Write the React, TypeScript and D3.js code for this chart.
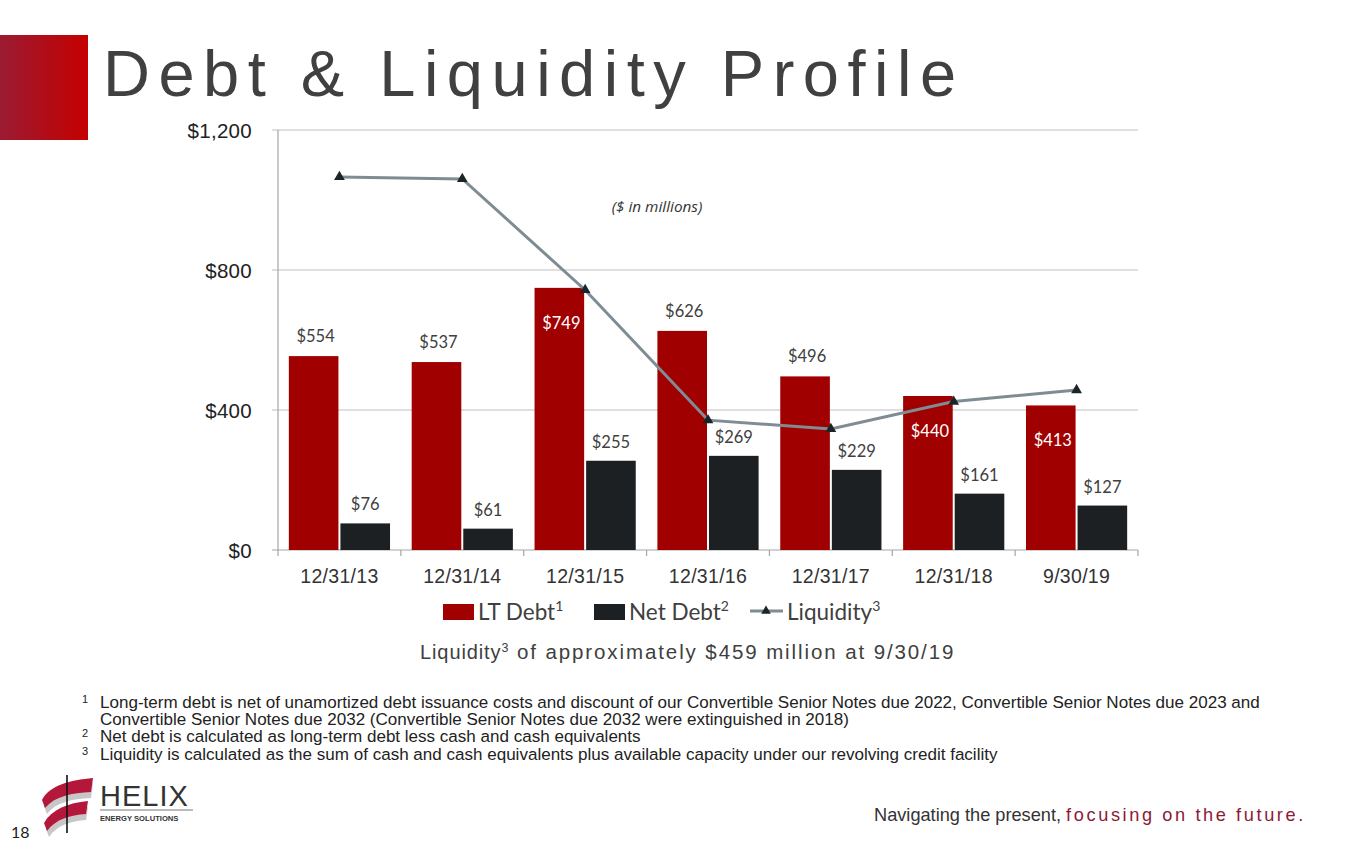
import React from "react";
import * as d3 from "d3";

const categories = ["12/31/13", "12/31/14", "12/31/15", "12/31/16", "12/31/17", "12/31/18", "9/30/19"];
const ltDebt = [554, 537, 749, 626, 496, 440, 413];
const netDebt = [76, 61, 255, 269, 229, 161, 127];
const liquidity = [1066, 1060, 743, 371, 346, 424, 457];
const ltInside = [false, false, true, false, false, true, true];
const yTicks = [0, 400, 800, 1200];
const footnotes = [
  { n: "1", lines: ["Long-term debt is net of unamortized debt issuance costs and discount of our Convertible Senior Notes due 2022, Convertible Senior Notes due 2023 and", "Convertible Senior Notes due 2032 (Convertible Senior Notes due 2032 were extinguished in 2018)"] },
  { n: "2", lines: ["Net debt is calculated as long-term debt less cash and cash equivalents"] },
  { n: "3", lines: ["Liquidity is calculated as the sum of cash and cash equivalents plus available capacity under our revolving credit facility"] },
];

const RED = "#a00000";
const BLACK = "#1c2022";
const LINE = "#7f8c93";
const AX = "#a6a6a6";
const ARIAL = "Liberation Sans, Arial, sans-serif";
const LABF = "Lato, 'Open Sans', sans-serif";

export default function App() {
  const W = 1365, H = 853;
  const L = 278, R = 1138, T = 130, B = 550;
  const x = d3.scaleBand<string>().domain(categories).range([L, R]).padding(0);
  const xs = d3.scaleBand<string>().domain(["lt", "net"]).range([0, x.bandwidth()]).paddingInner(0.0385).paddingOuter(0.21);
  const y = d3.scaleLinear().domain([0, 1200]).range([B, T]);
  const cx = (c: string) => (x(c) as number) + x.bandwidth() / 2;
  const line = d3.line<number>().x((_, i) => cx(categories[i])).y((v) => y(v));
  const tri = d3.symbol().type(d3.symbolTriangle).size(50)() as string;
  const bw = xs.bandwidth();

  const fnY = [708, 725, 742, 760];
  let li = 0;

  return (
    <svg width={W} height={H} style={{ position: "absolute", left: 0, top: 0, background: "#fff" }}>
      <defs>
        <linearGradient id="sq" x1="0" x2="1" y1="0" y2="0">
          <stop offset="0" stopColor="#9b1b32" />
          <stop offset="1" stopColor="#c50000" />
        </linearGradient>
      </defs>
      <rect x={0} y={35} width={88} height={105} fill="url(#sq)" />
      <text x={103} y={96} fontFamily={ARIAL} fontSize={65} fill="#404040" letterSpacing={8.5}>Debt &amp; Liquidity Profile</text>

      {/* grid & axes */}
      {yTicks.map((t) => (
        <g key={t}>
          {t > 0 && <line x1={L - 6} x2={R} y1={y(t)} y2={y(t)} stroke="#bfbfbf" strokeWidth={1.2} />}
          <text x={252} y={y(t) + 7.5} textAnchor="end" fontFamily={ARIAL} fontSize={20.5} fill="#222" letterSpacing={0.3}>{d3.format("$,")(t)}</text>
        </g>
      ))}
      <line x1={L} x2={L} y1={T} y2={B} stroke={AX} strokeWidth={1.2} />
      <line x1={L - 6} x2={R} y1={B} y2={B} stroke={AX} strokeWidth={1.2} />
      {categories.map((c) => (
        <line key={"tk" + c} x1={x(c) as number} x2={x(c) as number} y1={B} y2={B + 6} stroke={AX} strokeWidth={1.2} />
      ))}
      <line x1={R} x2={R} y1={B} y2={B + 6} stroke={AX} strokeWidth={1.2} />
      {categories.map((c) => (
        <text key={"xl" + c} x={cx(c)} y={583} textAnchor="middle" fontFamily={ARIAL} fontSize={19.5} fill="#333" letterSpacing={0.3}>{c}</text>
      ))}

      <text x={657} y={212} textAnchor="middle" fontFamily="'Open Sans', sans-serif" fontStyle="italic" fontSize={15.3} fill="#333">($ in millions)</text>

      {/* bars */}
      {categories.map((c, i) => {
        const x0 = (x(c) as number) + (xs("lt") as number);
        const x1 = (x(c) as number) + (xs("net") as number);
        return (
          <g key={"b" + c}>
            <rect x={x0} y={y(ltDebt[i])} width={bw} height={B - y(ltDebt[i])} fill={RED} />
            <rect x={x1} y={y(netDebt[i])} width={bw} height={B - y(netDebt[i])} fill={BLACK} />
          </g>
        );
      })}

      {/* liquidity line */}
      <path d={line(liquidity) as string} fill="none" stroke={LINE} strokeWidth={3} />
      {liquidity.map((v, i) => (
        <path key={"m" + i} d={tri} transform={`translate(${cx(categories[i])},${y(v)})`} fill="#1b2426" />
      ))}

      {/* labels */}
      {categories.map((c, i) => {
        const x0 = (x(c) as number) + (xs("lt") as number) + bw / 2;
        const x1 = (x(c) as number) + (xs("net") as number) + bw / 2;
        const ly = ltInside[i] ? y(ltDebt[i]) + 41 : y(ltDebt[i]) - 14;
        return (
          <g key={"l" + c} fontFamily={LABF} fontSize={16.5}>
            <text x={x0 + 2} y={ly} textAnchor="middle" fill={ltInside[i] ? "#fff" : "#404040"}>{"$" + ltDebt[i]}</text>
            <text x={x1} y={y(netDebt[i]) - 13} textAnchor="middle" fill="#404040">{"$" + netDebt[i]}</text>
          </g>
        );
      })}

      {/* legend */}
      <g fontFamily={LABF} fontSize={22.5} fill="#404040">
        <rect x={443} y={604} width={31} height={16} fill={RED} />
        <text x={478} y={620}>LT Debt<tspan fontSize={14} dy={-9}>1</tspan></text>
        <rect x={594} y={604} width={31} height={16} fill={BLACK} />
        <text x={629} y={620}>Net Debt<tspan fontSize={14} dy={-9}>2</tspan></text>
        <line x1={750} x2={783} y1={611} y2={611} stroke={LINE} strokeWidth={3} />
        <path d={d3.symbol().type(d3.symbolTriangle).size(40)() as string} transform="translate(766,611)" fill="#1b2426" />
        <text x={787} y={620}>Liquidity<tspan fontSize={14} dy={-9}>3</tspan></text>
      </g>

      <text x={420} y={659} fontFamily={ARIAL} fontSize={20} fill="#404040" letterSpacing={0.9}>
        Liquidity<tspan fontSize={12.5} dy={-7}>3</tspan><tspan dy={7} fontSize={20.5} letterSpacing={1.9}> of approximately $459 million at 9/30/19</tspan>
      </text>

      {/* footnotes */}
      <g fontFamily={ARIAL} fontSize={17.05} fill="#222">
        {footnotes.map((f) =>
          f.lines.map((ln, j) => {
            const yy = fnY[li++];
            return (
              <g key={f.n + "-" + j}>
                {j === 0 && <text x={82} y={yy - 5} fontSize={11}>{f.n}</text>}
                <text x={100} y={yy}>{ln}</text>
              </g>
            );
          })
        )}
      </g>

      {/* footer */}
      <text x={874} y={821} fontFamily={ARIAL} fontSize={18.2} fill="#333">
        Navigating the present, <tspan fill="#8b1a35" letterSpacing={2.6}>focusing on the future.</tspan>
      </text>
      <text x={11} y={838} fontFamily={LABF} fontSize={16} fill="#222">18</text>

      {/* logo */}
      <g>
        <path d="M44,803 C52,788 72,782 93,780 L91,795 C72,796 56,799 47,811 Z" fill="#c7c7c7" transform="translate(0,3)" />
        <path d="M42,800 C50,785 70,780 93,778 L91,792 C72,793 55,796 45,808 Z" fill="#b3183b" />
        <path d="M46,826 C54,812 70,806 88,804 L86,817 C71,818 57,822 49,834 Z" fill="#c7c7c7" transform="translate(0,3)" />
        <path d="M44,823 C52,809 68,803 88,801 L86,814 C70,815 56,819 47,831 Z" fill="#b3183b" />
        <line x1={67} x2={67} y1={775} y2={833} stroke="#111" strokeWidth={1.6} />
        <text x={100} y={806} fontFamily={ARIAL} fontSize={29} fill="#333" letterSpacing={1}>HELIX</text>
        <line x1={100} x2={193} y1={810} y2={810} stroke="#555" strokeWidth={0.8} />
        <text x={100} y={820.5} fontFamily={ARIAL} fontSize={7.6} fontWeight="bold" fill="#333">ENERGY SOLUTIONS</text>
      </g>
    </svg>
  );
}
